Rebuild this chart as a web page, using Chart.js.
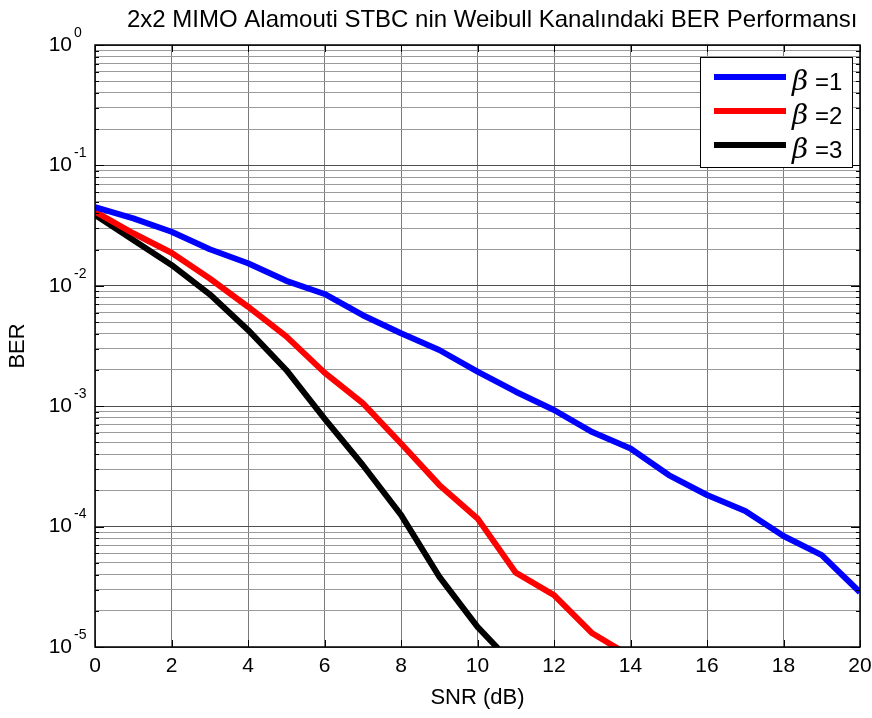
<!DOCTYPE html>
<html>
<head>
<meta charset="utf-8">
<script src="https://cdn.jsdelivr.net/npm/chart.js@4/dist/chart.umd.min.js"></script>
<style>
  html, body { margin: 0; padding: 0; background: #fff; }
  canvas { display: block; }
</style>
</head>
<body>
<canvas id="berChart" width="872" height="718"></canvas>
<script>
const snrDb = [0, 1, 2, 3, 4, 5, 6, 7, 8, 9, 10, 11, 12, 13, 14, 15, 16, 17, 18, 19, 20];
const berBeta1 = [0.045, 0.0363, 0.0281, 0.0201, 0.0154, 0.011, 0.00855, 0.0057, 0.00403, 0.00293, 0.00194,
  0.00132, 0.00093, 0.00061, 0.000446, 0.000268, 0.000183, 0.000135, 0.0000835, 0.000058, 0.0000285];
const berBeta2 = [0.0413, 0.0273, 0.0188, 0.0115, 0.0067, 0.0038, 0.0019, 0.00106, 0.00049, 0.000222, 0.000117,
  0.0000414, 0.000027, 0.000013, 0.0000084, null, null, null, null, null, null];
const berBeta3 = [0.0387, 0.024, 0.0149, 0.0085, 0.0043, 0.002, 0.00079, 0.000325, 0.000125, 0.0000384, 0.0000147,
  0.0000068, null, null, null, null, null, null, null, null, null];
const seriesLabels = ['1', '2', '3'];
const seriesColors = ['#0000ff', '#ff0000', '#000000'];
const yExponents = [0, -1, -2, -3, -4, -5];
const xTickStep = 2;

const chartTitle = '2x2 MIMO Alamouti STBC nin Weibull Kanalındaki BER Performansı';
const sansFont = '"Liberation Sans", Arial, Helvetica, sans-serif';

function toPoints(values) {
  return snrDb.map((x, i) => ({ x: x, y: values[i] }));
}

function isDecade(v) {
  const e = Math.log10(v);
  return Math.abs(e - Math.round(e)) < 1e-6;
}

const decorPlugin = {
  id: 'matlabDecor',
  afterDraw(chart) {
    const ctx = chart.ctx;
    const area = chart.chartArea;
    const xs = chart.scales.x;
    const ys = chart.scales.y;
    ctx.save();

    // axis box
    ctx.strokeStyle = '#000';
    ctx.lineWidth = 1.5;
    ctx.strokeRect(area.left, area.top, area.right - area.left, area.bottom - area.top);

    // inward tick marks
    ctx.lineWidth = 1;
    ys.ticks.forEach(t => {
      const y = Math.round(ys.getPixelForValue(t.value)) + 0.5;
      const len = isDecade(t.value) ? 9 : 4;
      ctx.beginPath();
      ctx.moveTo(area.left, y); ctx.lineTo(area.left + len, y);
      ctx.moveTo(area.right, y); ctx.lineTo(area.right - len, y);
      ctx.stroke();
    });
    xs.ticks.forEach(t => {
      const x = Math.round(xs.getPixelForValue(t.value)) + 0.5;
      ctx.beginPath();
      ctx.moveTo(x, area.bottom); ctx.lineTo(x, area.bottom - 7);
      ctx.moveTo(x, area.top); ctx.lineTo(x, area.top + 7);
      ctx.stroke();
    });

    ctx.fillStyle = '#000';
    // x tick labels
    ctx.font = '21px ' + sansFont;
    ctx.textAlign = 'center';
    ctx.textBaseline = 'middle';
    xs.ticks.forEach(t => {
      ctx.fillText(String(t.value), xs.getPixelForValue(t.value), 666);
    });

    // y tick labels 10^k
    yExponents.forEach(k => {
      const y = ys.getPixelForValue(Math.pow(10, k));
      ctx.font = '21px ' + sansFont;
      ctx.textAlign = 'right';
      ctx.textBaseline = 'middle';
      ctx.fillText('10', 72, y);
      ctx.font = '14px ' + sansFont;
      ctx.textAlign = 'left';
      ctx.fillText(String(k), 74, y - 12);
    });

    // title and axis labels
    ctx.font = '24px ' + sansFont;
    ctx.textAlign = 'left';
    ctx.textBaseline = 'middle';
    ctx.fillText(chartTitle, 127, 20);
    ctx.textAlign = 'center';
    ctx.font = '22px ' + sansFont;
    ctx.fillText('SNR (dB)', (area.left + area.right) / 2, 698);
    ctx.save();
    ctx.translate(18, (area.top + area.bottom) / 2);
    ctx.rotate(-Math.PI / 2);
    ctx.fillText('BER', 0, 0);
    ctx.restore();

    // legend
    const box = { x: 700, y: 57, w: 152, h: 110 };
    ctx.fillStyle = '#fff';
    ctx.fillRect(box.x, box.y, box.w, box.h);
    ctx.strokeStyle = '#000';
    ctx.lineWidth = 1;
    ctx.strokeRect(box.x + 0.5, box.y + 0.5, box.w, box.h);
    chart.data.datasets.forEach((ds, i) => {
      const y = 77 + i * 34;
      ctx.strokeStyle = ds.borderColor;
      ctx.lineWidth = 6;
      ctx.beginPath();
      ctx.moveTo(714, y); ctx.lineTo(786, y);
      ctx.stroke();
      ctx.fillStyle = '#000';
      ctx.textAlign = 'left';
      ctx.textBaseline = 'middle';
      ctx.font = 'italic 28px "DejaVu Serif", "Liberation Serif", serif';
      ctx.fillText('β', 792, y + 6);
      ctx.font = '24px ' + sansFont;
      ctx.fillText('=' + seriesLabels[i], 815, y + 6);
    });

    ctx.restore();
  }
};

const ctx = document.getElementById('berChart').getContext('2d');
const berChart = new Chart(ctx, {
  type: 'line',
  data: {
    datasets: [berBeta1, berBeta2, berBeta3].map((vals, i) => ({
      label: 'β =' + seriesLabels[i],
      data: toPoints(vals),
      borderColor: seriesColors[i],
      backgroundColor: seriesColors[i],
      borderWidth: 6,
      borderJoinStyle: 'round',
      pointRadius: 0,
      tension: 0,
      fill: false,
      spanGaps: false
    }))
  },
  options: {
    responsive: false,
    animation: false,
    layout: { padding: { top: 45, right: 12, left: 0, bottom: 0 } },
    plugins: {
      legend: { display: false },
      title: { display: false },
      tooltip: { enabled: false }
    },
    scales: {
      x: {
        type: 'linear',
        min: 0,
        max: 20,
        afterFit: scale => { scale.height = 71; },
        ticks: { stepSize: xTickStep, display: false },
        grid: { color: '#7a7a7a', lineWidth: 1, drawTicks: false },
        border: { display: false }
      },
      y: {
        type: 'logarithmic',
        min: 1e-5,
        max: 1,
        afterFit: scale => { scale.width = 95; },
        afterBuildTicks: scale => {
          const ticks = [];
          for (let k = -5; k < 0; k++) {
            for (let m = 1; m < 10; m++) ticks.push({ value: m * Math.pow(10, k) });
          }
          ticks.push({ value: 1 });
          scale.ticks = ticks;
        },
        ticks: { autoSkip: false, callback: () => '' },
        grid: {
          color: c => (c.tick && isDecade(c.tick.value)) ? '#505050' : '#9a9a9a',
          lineWidth: 1,
          drawTicks: false
        },
        border: { display: false }
      }
    }
  },
  plugins: [decorPlugin]
});
</script>
</body>
</html>
